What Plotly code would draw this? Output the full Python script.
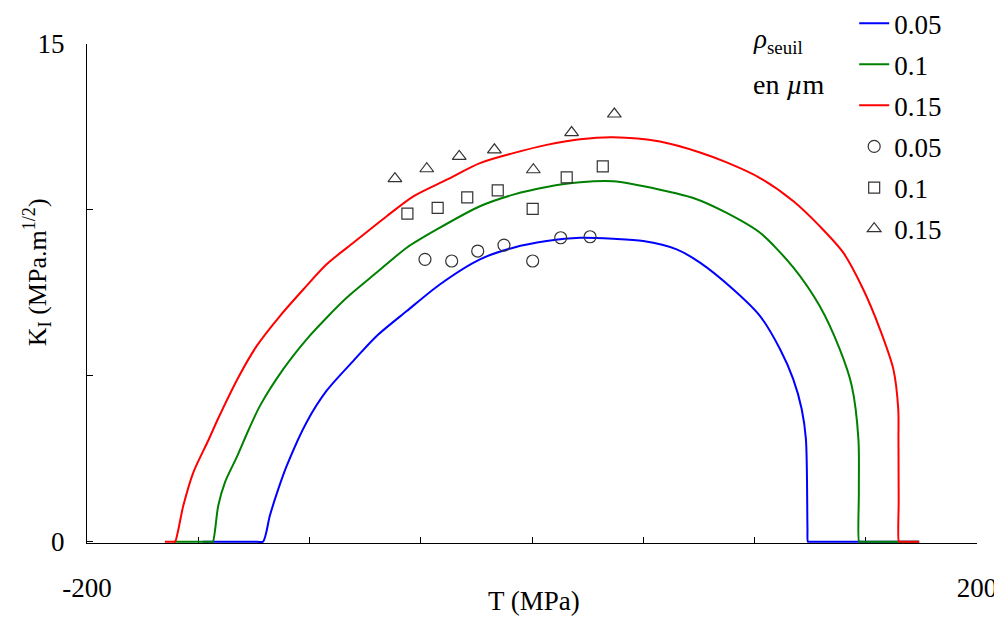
import plotly.graph_objects as go

# ---- data ----
T_005 = [-148, -123.6, -120.9, -117.8, -114.0, -110.2, -101.3, -92.3, -80.3, -69.8, -56.3, -41.3,
         -23.4, -8.4, 6.6, 21.6, 36.5, 50.0, 65.0, 75.5, 90.5, 102.5, 111.5, 117.4, 121.2, 123.1,
         123.8, 124.0, 124.5, 174]
K_005 = [0, 0, 0, 0.79, 1.59, 2.29, 3.60, 4.55, 5.45, 6.20, 6.95, 7.76,
         8.51, 8.86, 9.06, 9.16, 9.13, 9.06, 8.81, 8.41, 7.60, 6.80, 5.80, 4.90, 4.00, 3.10,
         0.42, 0, 0, 0]

T_01 = [-161, -143.9, -143.4, -141.0, -138.0, -132.7, -127.5, -122.2, -111.8, -101.3, -92.3, -83.3, -69.8,
        -56.3, -42.8, -23.4, -8.4, 6.6, 21.6, 36.5, 57.5, 72.5, 87.5, 102.5, 117.5, 129.3, 138.3,
        143.7, 146.7, 146.9, 147.0, 147.5, 174]
K_01 = [0, 0, 0, 1.09, 1.79, 2.55, 3.35, 4.10, 5.20, 6.10, 6.75, 7.35, 8.11,
        8.86, 9.41, 10.11, 10.46, 10.69, 10.83, 10.86, 10.61, 10.36, 9.91, 9.31, 8.26, 7.10, 5.80,
        4.70, 3.10, 1.50, 0, 0, 0]

T_015 = [-165, -160.9, -160.4, -156.7, -152.2, -145.5, -141.0, -132.0, -123.7, -113.3, -102.8, -92.3, -80.3,
         -65.3, -53.3, -38.3, -23.4, -8.4, 6.6, 21.6, 36.5, 57.5, 75.5, 87.5, 102.5, 117.5, 129.3,
         139.9, 148.9, 156.4, 162.4, 164.6, 164.7, 164.8, 164.9, 165.4, 174]
K_015 = [0, 0, 0, 1.09, 2.09, 3.05, 3.72, 4.95, 5.90, 6.80, 7.60, 8.36, 9.01,
         9.81, 10.41, 10.91, 11.41, 11.71, 11.96, 12.13, 12.19, 12.06, 11.73, 11.43, 10.96, 10.26, 9.51,
         8.71, 7.60, 6.40, 5.20, 4.00, 3.10, 1.23, 0, 0, 0]

exp_T_005 = [-48.1, -36.1, -24.4, -12.6, 0.3, 12.9, 26.1]
exp_K_005 = [8.51, 8.46, 8.76, 8.94, 8.46, 9.16, 9.19]

exp_T_01 = [-56.0, -42.4, -29.1, -15.4, 0.3, 15.6, 31.8]
exp_K_01 = [9.89, 10.06, 10.38, 10.59, 10.03, 10.98, 11.31]

exp_T_015 = [-61.6, -47.3, -32.7, -16.9, 0.6, 17.8, 37.0]
exp_K_015 = [10.94, 11.24, 11.61, 11.81, 11.21, 12.33, 12.89]

x_tickvals = [-200, -150, -100, -50, 0, 50, 100, 150, 200]
x_ticktext = ["-200", "", "", "", "", "", "", "", "200"]
y_tickvals = [0, 5, 10, 15]
y_ticktext = ["0", "", "", "15"]

FONT = "Liberation Serif"

fig = go.Figure()
curves = [(T_005, K_005, "#0000FF", "0.05"),
          (T_01, K_01, "#008000", "0.1"),
          (T_015, K_015, "#FF0000", "0.15")]
for i, (xs, ys, c, name) in enumerate(curves):
    fig.add_trace(go.Scatter(x=xs, y=ys, mode="lines", name=name,
                             line=dict(color=c, width=2, shape="spline", smoothing=0.8),
                             legendgroup=f"g{i}"))

pts = [(exp_T_005, exp_K_005, "circle-open", 12, "0.05"),
       (exp_T_01, exp_K_01, "square-open", 11, "0.1"),
       (exp_T_015, exp_K_015, "triangle-up-open", 12, "0.15")]
for i, (xs, ys, sym, sz, name) in enumerate(pts):
    fig.add_trace(go.Scatter(x=xs, y=ys, mode="markers", name=name,
                             marker=dict(symbol=sym, size=sz, color="#333333",
                                         line=dict(width=1.2, color="#333333")),
                             legendgroup=f"p{i}"))

# page body has an 8px margin: figure is sized so it fills the rest of the window
fig.update_layout(
    width=994, height=609,
    margin=dict(l=79, r=25, t=36, b=74, autoexpand=False),
    plot_bgcolor="white", paper_bgcolor="white",
    font=dict(family=FONT, size=27, color="black"),
    showlegend=True,
    legend=dict(xref="paper", yref="paper", x=0.862, y=1.090,
                xanchor="left", yanchor="top",
                bgcolor="rgba(0,0,0,0)", font=dict(family=FONT, size=27, color="black"),
                tracegroupgap=3, itemwidth=30),
    xaxis=dict(range=[-200, 200], showline=True, linecolor="black", linewidth=1,
               ticks="inside", ticklen=6, tickcolor="black", automargin=False,
               tickvals=x_tickvals, ticktext=x_ticktext, showgrid=False, zeroline=False,
               ticklabelstandoff=21, layer="below traces"),
    yaxis=dict(range=[-0.04, 15], showline=True, linecolor="black", linewidth=1,
               ticks="inside", ticklen=6, tickcolor="black", automargin=False,
               tickvals=y_tickvals, ticktext=y_ticktext, showgrid=False, zeroline=False,
               ticklabelstandoff=16, layer="below traces"),
    annotations=[
        dict(text="T (MPa)", xref="paper", yref="paper", x=0.502, y=-0.116,
             xanchor="center", yanchor="middle", showarrow=False,
             font=dict(family=FONT, size=27)),
        dict(text="K<sub>I</sub> (MPa.m<sup>1/2</sup>)", xref="paper", yref="paper",
             x=-0.056, y=0.543, textangle=-90, xanchor="center", yanchor="middle",
             showarrow=False, font=dict(family=FONT, size=26)),
        dict(text="<i>ρ</i><sub>seuil</sub>", xref="paper", yref="paper",
             x=(751 - 87) / 890, y=(543 - 41) / 499, xanchor="left", yanchor="middle",
             showarrow=False, font=dict(family=FONT, size=27)),
        dict(text="en <i>µ</i>m", xref="paper", yref="paper",
             x=(751 - 87) / 890, y=(543 - 85) / 499, xanchor="left", yanchor="middle",
             showarrow=False, font=dict(family=FONT, size=28)),
    ],
)

fig.write_html("out.html")
